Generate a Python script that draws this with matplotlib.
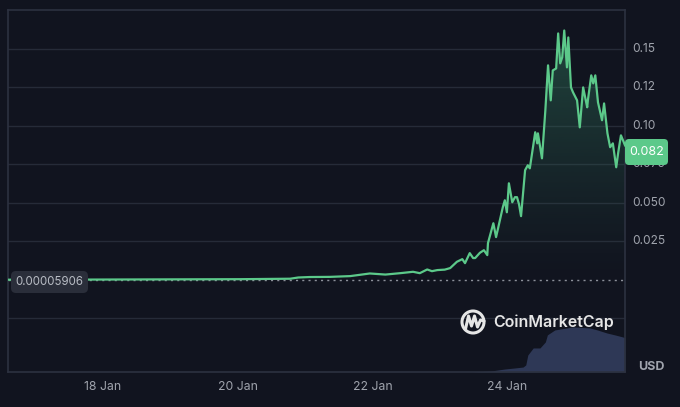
import matplotlib
matplotlib.use("Agg")
import matplotlib.pyplot as plt
import numpy as np
from matplotlib.patches import FancyBboxPatch, Circle, Polygon
from matplotlib.lines import Line2D
from matplotlib.transforms import Affine2D

plt.rcParams["font.family"] = ["Inter", "DejaVu Sans"]

BG = "#11141f"
GRID = "#262b38"
TXT = "#a0a4ad"
GREEN = "#5cc98a"
VOL = "#2e3856"

# price (day of January, USD)
price_day = [16.60, 17.37, 18.26, 19.15, 20.04, 20.78, 20.90, 21.07, 21.37, 21.67,
             21.96, 22.19, 22.41, 22.60, 22.70, 22.81, 22.88, 22.96, 23.07, 23.15,
             23.25, 23.33, 23.37, 23.44, 23.49, 23.52, 23.59, 23.65, 23.70, 23.71,
             23.79, 23.83, 23.87, 23.93, 23.96, 23.99, 24.02, 24.07, 24.11, 24.14,
             24.17, 24.20, 24.26, 24.30, 24.33, 24.41, 24.44, 24.45, 24.51, 24.56,
             24.60, 24.64, 24.67, 24.72, 24.75, 24.78, 24.81, 24.84, 24.88, 24.90,
             24.94, 24.97, 25.03, 25.07, 25.12, 25.18, 25.19, 25.24, 25.27, 25.30,
             25.34, 25.40, 25.43, 25.48, 25.52, 25.56, 25.61, 25.64, 25.68, 25.71,
             25.74]
price_val = [0.00006, 0.0001, 0.0002, 0.0003, 0.0004, 0.0007, 0.0015, 0.0018, 0.0019, 0.0024,
             0.0041, 0.0034, 0.0043, 0.0052, 0.0043, 0.0067, 0.0056, 0.0063, 0.0066, 0.0076,
             0.0117, 0.0134, 0.0108, 0.0173, 0.0141, 0.0141, 0.0175, 0.0192, 0.0160, 0.0238,
             0.0367, 0.0277, 0.0354, 0.0471, 0.0516, 0.0438, 0.0626, 0.0503, 0.0536, 0.0536,
             0.0490, 0.0413, 0.0711, 0.0743, 0.0723, 0.0957, 0.0885, 0.0950, 0.0788, 0.1099,
             0.1391, 0.1164, 0.1358, 0.1371, 0.1598, 0.1404, 0.1443, 0.1617, 0.1378, 0.1572,
             0.1248, 0.1216, 0.1164, 0.0989, 0.1248, 0.1119, 0.1164, 0.1326, 0.1274, 0.1326,
             0.1151, 0.1035, 0.1144, 0.0950, 0.0860, 0.0885, 0.0730, 0.0827, 0.0937, 0.0905,
             0.0872]

# volume (million USD)
vol_day = [23.46, 23.76, 23.96, 24.11, 24.23, 24.27, 24.30, 24.38, 24.48, 24.56,
           24.59, 24.70, 24.97, 25.22, 25.33, 25.47, 25.59, 25.71, 25.74]
vol_val = [0.0, 0.7, 2.0, 2.7, 3.3, 4.7, 11.3, 16.0, 16.0, 20.0,
           24.7, 28.0, 30.0, 29.3, 28.0, 26.0, 24.7, 23.3, 22.7]

open_price = 0.00005906
last_price = 0.082
grid_levels = [-0.025, 0.025, 0.05, 0.075, 0.10, 0.125, 0.15]
ytick_vals = [0.025, 0.05, 0.075, 0.10, 0.125, 0.15]
ytick_labels = ["0.025", "0.050", "0.075", "0.10", "0.12", "0.15"]
xtick_vals = [18, 20, 22, 24]
xtick_labels = ["18 Jan", "20 Jan", "22 Jan", "24 Jan"]

W, H = 680, 407
fig = plt.figure(figsize=(W / 100, H / 100), dpi=100, facecolor=BG)
# pixel coordinates, origin top-left
PX = Affine2D().scale(1 / 100, -1 / 100).translate(0, H / 100) + fig.dpi_scale_trans


def fx(px):
    return px / W


def fy(py):
    return 1 - py / H


ax = fig.add_axes([fx(8), fy(372), fx(625) - fx(8), fy(10) - fy(372)])

# volume on its own scale
vax = ax.twinx()
vax.set_ylim(0, 241)
vax.fill_between(vol_day, vol_val, 0, color=VOL, lw=0, zorder=1)
vax.axis("off")
ax.set_zorder(vax.get_zorder() + 1)
ax.patch.set_visible(False)
vax.patch.set_visible(False)

ax.set_xlim(16.6, 25.74)
ax.set_ylim(-0.0598, 0.175)
ax.tick_params(left=False, right=False, bottom=False, top=False,
               labelleft=False, labelright=False, labelbottom=False)

for g in grid_levels:
    ax.axhline(g, color=GRID, lw=1.0, zorder=1)
ax.axhline(open_price, color="#8c909a", lw=1.0, ls=(0, (1.5, 3)), zorder=2)

for side in ["left", "top", "right", "bottom"]:
    ax.spines[side].set_color("#2c3140")
    ax.spines[side].set_linewidth(1.2)

# gradient fill under price line
grad = np.zeros((256, 1, 4))
c = matplotlib.colors.to_rgb("#2f7259")
grad[..., 0], grad[..., 1], grad[..., 2] = c
grad[:, 0, 3] = np.linspace(0.6, 0.0, 256) ** 1.2
im = ax.imshow(grad, aspect="auto", extent=[16.6, 25.74, 0, 0.165],
               origin="upper", zorder=2)
verts = [(price_day[0], 0)] + list(zip(price_day, price_val)) + [(price_day[-1], 0)]
clip = Polygon(verts, closed=True, transform=ax.transData, facecolor="none", edgecolor="none")
ax.add_patch(clip)
im.set_clip_path(clip)
ax.set_xlim(16.6, 25.74)
ax.set_ylim(-0.0598, 0.175)

ax.plot(price_day, price_val, color=GREEN, lw=1.6, zorder=4, solid_joinstyle="round")

# y tick labels on right
for v, lab in zip(ytick_vals, ytick_labels):
    ax.text(1.012, v, lab, transform=ax.get_yaxis_transform(), ha="left", va="center",
            fontsize=8.6, color=TXT)
for d, lab in zip(xtick_vals, xtick_labels):
    ax.text(d, -0.042, lab, transform=ax.get_xaxis_transform(), ha="center", va="center",
            fontsize=8.8, color=TXT)

fig.text(fx(638), fy(367), "USD", ha="left", va="center", fontsize=9,
         fontweight="bold", color=TXT)

# last price badge
badge = FancyBboxPatch((625, 139), 43, 26, boxstyle="round,pad=0,rounding_size=4",
                       transform=PX, facecolor=GREEN, edgecolor="none", zorder=10)
fig.patches.append(badge)
fig.text(fx(647), fy(151.5), f"{last_price:.3f}", ha="center", va="center",
         fontsize=9, color="white", zorder=11)

# opening price badge
obadge = FancyBboxPatch((11, 271), 77, 22, boxstyle="round,pad=0,rounding_size=5",
                        transform=PX, facecolor="#2a2e3a", edgecolor="none", zorder=10)
fig.patches.append(obadge)
fig.text(fx(49.5), fy(282), f"{open_price:.8f}", ha="center", va="center",
         fontsize=8.3, color="#b8bcc4", zorder=11)

# watermark
ring = Circle((473, 322), 11, transform=PX, fill=False,
              edgecolor="#e6e6e6", lw=2.2, zorder=12)
fig.patches.append(ring)
mx = [465.5, 468.5, 471.5, 474.5, 477.5, 480.5, 484]
my = [329, 316, 326, 316, 327, 320, 321]
fig.lines.append(Line2D(mx, my, transform=PX, color="#e6e6e6", lw=2.2,
                        solid_joinstyle="round", solid_capstyle="round", zorder=12))
fig.text(fx(493), fy(322.5), "CoinMarketCap", ha="left", va="center", fontsize=11.5,
         fontweight="semibold", color="#e6e6e6", zorder=12)

fig.savefig("out.png", dpi=100, facecolor=BG)
